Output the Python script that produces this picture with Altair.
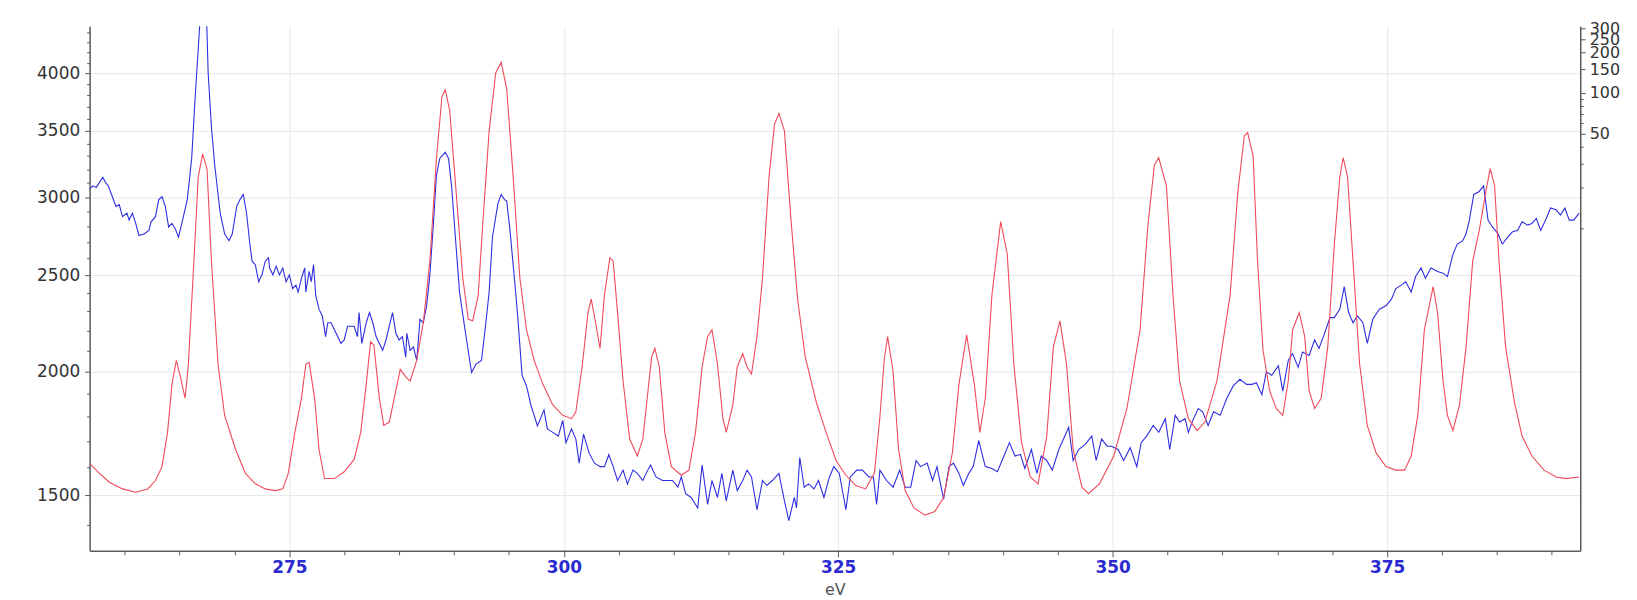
import altair as alt
import pandas as pd

# ---- data (eV, intensity) ----
BLUE = [
    (256.8, 3056), (257.1, 3080), (257.4, 3068), (257.7, 3105), (258.0, 3142), (258.25, 3105),
    (258.5, 3080), (258.8, 3019), (259.2, 2936), (259.5, 2948), (259.8, 2867), (260.2, 2890),
    (260.4, 2844), (260.7, 2890), (261.0, 2822), (261.3, 2744), (261.8, 2755), (262.2, 2777),
    (262.4, 2833), (262.8, 2867), (263.1, 2983), (263.4, 3003), (263.7, 2936), (264.0, 2799),
    (264.3, 2822), (264.6, 2788), (264.9, 2733), (265.2, 2822), (265.7, 2983), (266.1, 3283),
    (266.4, 3759), (266.7, 4236), (267.0, 4800), (267.4, 4800), (267.6, 4007), (267.9, 3527),
    (268.2, 3231), (268.7, 2890), (269.1, 2755), (269.5, 2711), (269.8, 2755), (270.2, 2936),
    (270.5, 2983), (270.8, 3019), (271.1, 2890), (271.4, 2690), (271.6, 2585), (271.9, 2564),
    (272.2, 2464), (272.5, 2504), (272.8, 2585), (273.1, 2606), (273.2, 2544), (273.5, 2504),
    (273.8, 2554), (274.1, 2504), (274.4, 2544), (274.7, 2464), (275.0, 2504), (275.3, 2425),
    (275.6, 2445), (275.8, 2406), (276.1, 2484), (276.4, 2544), (276.5, 2406), (276.8, 2524),
    (277.0, 2464), (277.2, 2564), (277.4, 2387), (277.7, 2312), (278.0, 2276), (278.3, 2169),
    (278.5, 2240), (278.8, 2240), (279.1, 2204), (279.4, 2169), (279.7, 2135), (280.0, 2152),
    (280.3, 2222), (280.6, 2222), (280.9, 2222), (281.2, 2169), (281.35, 2294), (281.6, 2135),
    (282.0, 2240), (282.3, 2294), (282.6, 2240), (282.9, 2169), (283.2, 2135), (283.5, 2101),
    (283.8, 2152), (284.1, 2222), (284.4, 2294), (284.7, 2186), (285.0, 2152), (285.3, 2169),
    (285.6, 2068), (285.7, 2186), (286.0, 2101), (286.3, 2118), (286.6, 2052), (286.9, 2258),
    (287.2, 2240), (287.5, 2330), (287.8, 2504), (288.1, 2799), (288.4, 3157), (288.7, 3283),
    (289.2, 3330), (289.5, 3283), (289.8, 3059), (290.1, 2755), (290.5, 2406), (291.0, 2204),
    (291.6, 1995), (292.0, 2035), (292.5, 2052), (292.9, 2240), (293.2, 2406), (293.5, 2733),
    (294.0, 2956), (294.3, 3019), (294.6, 2983), (294.8, 2972), (295.1, 2777), (295.5, 2484),
    (295.8, 2276), (296.2, 1982), (296.6, 1935), (297.0, 1850), (297.6, 1762), (298.2, 1829),
    (298.5, 1750), (299.0, 1736), (299.5, 1721), (299.9, 1785), (300.2, 1695), (300.7, 1750),
    (301.1, 1709), (301.4, 1616), (301.8, 1729), (302.3, 1655), (302.8, 1616), (303.3, 1603),
    (303.7, 1603), (304.1, 1648), (304.5, 1603), (304.9, 1552), (305.4, 1590), (305.8, 1540),
    (306.3, 1590), (306.7, 1578), (307.2, 1552), (307.5, 1578), (307.9, 1609), (308.4, 1565),
    (309.0, 1552), (309.5, 1552), (309.9, 1552), (310.4, 1528), (310.7, 1565), (311.1, 1505),
    (311.6, 1492), (312.2, 1456), (312.6, 1609), (313.1, 1468), (313.5, 1552), (314.0, 1492),
    (314.4, 1578), (314.8, 1480), (315.4, 1590), (315.8, 1516), (316.3, 1552), (316.7, 1590),
    (317.1, 1565), (317.6, 1450), (318.1, 1552), (318.5, 1534), (319.0, 1552), (319.6, 1578),
    (320.1, 1480), (320.5, 1414), (321.0, 1492), (321.2, 1456), (321.5, 1637), (321.9, 1528),
    (322.3, 1540), (322.8, 1522), (323.2, 1552), (323.7, 1492), (324.2, 1565), (324.6, 1603),
    (325.1, 1578), (325.7, 1450), (326.1, 1565), (326.7, 1590), (327.2, 1590), (327.8, 1565),
    (328.2, 1565), (328.5, 1468), (328.8, 1590), (329.4, 1552), (330.0, 1528), (330.6, 1590),
    (331.1, 1528), (331.6, 1528), (332.1, 1626), (332.5, 1603), (333.1, 1616), (333.6, 1552),
    (334.0, 1603), (334.6, 1486), (335.1, 1603), (335.5, 1616), (336.0, 1578), (336.4, 1534),
    (336.9, 1578), (337.3, 1603), (337.8, 1703), (338.4, 1603), (339.0, 1596), (339.5, 1584),
    (340.1, 1643), (340.6, 1695), (341.1, 1643), (341.6, 1649), (342.0, 1596), (342.6, 1668),
    (343.1, 1578), (343.5, 1643), (344.0, 1626), (344.5, 1590), (345.1, 1668), (346.0, 1757),
    (346.4, 1626), (346.9, 1668), (347.5, 1688), (348.1, 1721), (348.5, 1626), (349.0, 1709),
    (349.5, 1681), (349.9, 1681), (350.5, 1668), (351.0, 1626), (351.6, 1675), (352.2, 1603),
    (352.6, 1695), (353.1, 1721), (353.7, 1764), (354.2, 1736), (354.8, 1792), (355.2, 1668),
    (355.7, 1806), (356.1, 1778), (356.6, 1792), (356.9, 1736), (357.3, 1785), (357.8, 1835),
    (358.2, 1821), (358.7, 1764), (359.2, 1821), (359.8, 1806), (360.4, 1879), (361.0, 1935),
    (361.6, 1964), (362.2, 1941), (362.7, 1941), (363.1, 1948), (363.6, 1895), (364.0, 1998),
    (364.5, 1982), (365.1, 2027), (365.5, 1911), (366.0, 2052), (366.4, 2085), (366.9, 2019),
    (367.3, 2093), (367.9, 2076), (368.4, 2152), (368.8, 2110), (369.2, 2169), (369.8, 2267),
    (370.2, 2267), (370.7, 2312), (371.1, 2436), (371.5, 2294), (371.9, 2240), (372.3, 2276),
    (372.8, 2240), (373.2, 2135), (373.7, 2258), (374.3, 2312), (374.9, 2330), (375.4, 2366),
    (375.8, 2425), (376.3, 2445), (376.7, 2464), (377.2, 2406), (377.6, 2494), (378.1, 2544),
    (378.5, 2484), (379.0, 2544), (379.6, 2524), (380.1, 2514), (380.5, 2494), (381.0, 2626),
    (381.4, 2690), (381.9, 2711), (382.2, 2755), (382.5, 2844), (382.9, 3019), (383.4, 3040),
    (383.8, 3080), (384.2, 2844), (384.6, 2799), (385.1, 2755), (385.5, 2690), (386.0, 2733),
    (386.4, 2766), (386.9, 2777), (387.3, 2833), (387.8, 2811), (388.2, 2822), (388.6, 2855),
    (389.0, 2777), (389.5, 2855), (389.9, 2925), (390.4, 2913), (390.8, 2878), (391.2, 2925),
    (391.6, 2844), (392.0, 2844), (392.5, 2890),
]

RED = [
    (256.8, 1615), (257.7, 1578), (258.6, 1546), (259.8, 1522), (261.0, 1510), (262.1, 1522),
    (262.8, 1552), (263.4, 1603), (263.9, 1736), (264.3, 1941), (264.7, 2052), (265.1, 1969),
    (265.5, 1879), (265.8, 2035), (266.3, 2585), (266.7, 3147), (267.1, 3318), (267.5, 3202),
    (267.9, 2585), (268.5, 2035), (269.1, 1806), (270.1, 1668), (271.0, 1578), (271.9, 1540),
    (272.8, 1522), (273.7, 1516), (274.4, 1522), (274.9, 1578), (275.5, 1736), (276.1, 1879),
    (276.5, 2035), (276.8, 2043), (277.3, 1879), (277.7, 1668), (278.2, 1559), (279.1, 1559),
    (280.0, 1584), (280.9, 1630), (281.5, 1736), (282.0, 1941), (282.4, 2143), (282.7, 2127),
    (283.2, 1879), (283.6, 1764), (284.1, 1778), (284.7, 1913), (285.1, 2010), (285.6, 1975),
    (286.0, 1956), (286.6, 2052), (287.2, 2240), (287.8, 2585), (288.4, 3283), (288.9, 3791),
    (289.2, 3850), (289.6, 3673), (290.2, 3030), (290.8, 2484), (291.3, 2258), (291.7, 2250),
    (292.2, 2387), (292.6, 2799), (293.2, 3500), (293.8, 4007), (294.3, 4104), (294.8, 3860),
    (295.4, 3130), (296.0, 2484), (296.6, 2204), (297.3, 2052), (298.1, 1941), (299.0, 1850),
    (299.9, 1806), (300.7, 1792), (301.1, 1821), (301.7, 2035), (302.2, 2292), (302.5, 2366),
    (302.9, 2240), (303.3, 2110), (303.7, 2387), (304.2, 2606), (304.5, 2585), (304.9, 2292),
    (305.4, 1956), (306.0, 1709), (306.7, 1643), (307.2, 1709), (307.6, 1879), (308.0, 2068),
    (308.3, 2110), (308.7, 2021), (309.2, 1736), (309.8, 1603), (310.7, 1571), (311.4, 1590),
    (312.0, 1736), (312.6, 2021), (313.1, 2169), (313.5, 2204), (314.0, 2035), (314.5, 1792),
    (314.8, 1736), (315.4, 1850), (315.8, 2021), (316.3, 2085), (316.7, 2021), (317.1, 1988),
    (317.6, 2169), (318.1, 2484), (318.7, 3147), (319.2, 3555), (319.6, 3646), (320.1, 3500),
    (320.7, 2844), (321.3, 2366), (322.0, 2068), (323.0, 1863), (323.9, 1736), (324.8, 1626),
    (325.7, 1571), (326.6, 1534), (327.5, 1522), (328.3, 1580), (328.8, 1800), (329.2, 2060),
    (329.5, 2169), (330.0, 2000), (330.5, 1668), (331.1, 1516), (331.9, 1456), (332.9, 1432),
    (333.8, 1444), (334.6, 1492), (335.4, 1655), (336.0, 1941), (336.7, 2178), (337.4, 1941),
    (337.9, 1736), (338.4, 1879), (339.0, 2387), (339.8, 2834), (340.4, 2627), (341.0, 2035),
    (341.7, 1695), (342.5, 1565), (343.2, 1540), (344.0, 1721), (344.6, 2118), (345.2, 2250),
    (345.8, 2035), (346.4, 1668), (347.2, 1528), (347.8, 1505), (348.8, 1540), (350.1, 1643),
    (351.3, 1835), (352.5, 2204), (353.2, 2799), (353.8, 3231), (354.2, 3288), (354.9, 3080),
    (355.5, 2387), (356.1, 1956), (356.9, 1792), (357.7, 1743), (358.4, 1778), (359.5, 1956),
    (360.7, 2387), (361.4, 3030), (362.0, 3460), (362.3, 3486), (362.8, 3300), (363.2, 2585),
    (363.7, 2101), (364.3, 1913), (364.9, 1835), (365.5, 1806), (366.0, 1956), (366.4, 2204),
    (367.0, 2294), (367.5, 2169), (367.9, 1913), (368.4, 1835), (369.0, 1879), (369.6, 2118),
    (370.2, 2690), (370.7, 3147), (371.0, 3288), (371.4, 3147), (371.9, 2585), (372.5, 2035),
    (373.2, 1764), (374.0, 1655), (374.9, 1603), (375.8, 1590), (376.6, 1590), (377.2, 1643),
    (377.8, 1806), (378.4, 2204), (379.2, 2436), (379.6, 2294), (380.1, 1956), (380.5, 1806),
    (381.0, 1743), (381.6, 1850), (382.2, 2118), (382.8, 2585), (383.4, 2777), (384.0, 3040),
    (384.4, 3205), (384.8, 3080), (385.2, 2585), (385.8, 2118), (386.6, 1863), (387.3, 1721),
    (388.2, 1643), (389.3, 1590), (390.4, 1565), (391.3, 1559), (392.5, 1565),
]

X_DOMAIN = [256.8, 392.6]
Y_DOMAIN = [1318, 4463]
X_TICKS = list(range(260, 395, 5))
Y_TICKS = list(range(1400, 4500, 100))
RIGHT_DOMAIN = [0.042, 310]
RIGHT_TICKS = [10, 20, 30, 40, 50, 60, 70, 80, 90, 100, 150, 200, 250, 300]

blue_df = pd.DataFrame(BLUE, columns=["eV", "value"])
red_df = pd.DataFrame(RED, columns=["eV", "value"])
right_df = pd.DataFrame({"eV": [320.0, 320.0], "r": [RIGHT_TICKS[0], RIGHT_TICKS[-1]]})

FONT = "DejaVu Sans"
AXIS_GREY = "#5a5a5a"
GRID = "#e8e8e8"

x_enc = alt.X(
    "eV:Q",
    scale=alt.Scale(domain=X_DOMAIN, nice=False, zero=False),
    axis=alt.Axis(
        title="eV",
        values=X_TICKS,
        labelExpr="datum.value % 25 === 0 ? datum.label : ''",
        labelColor="#2a2ad0",
        labelFontWeight="bold",
        labelFontSize=17,
        labelFont=FONT,
        labelPadding=3,
        tickSize={"condition": {"test": "datum.value % 25 === 0", "value": 6}, "value": 4},
        tickColor=AXIS_GREY,
        domainColor=AXIS_GREY,
        domainWidth=1.5,
        gridColor={"condition": {"test": "datum.value % 25 === 0", "value": GRID}, "value": "rgba(0,0,0,0)"},
        titleColor="#555555",
        titleFont=FONT,
        titleFontSize=16,
        titleFontWeight="normal",
        titlePadding=6,
    ),
)

y_left = alt.Y(
    "value:Q",
    scale=alt.Scale(type="log", domain=Y_DOMAIN, nice=False, zero=False),
    axis=alt.Axis(
        title=None,
        values=Y_TICKS,
        format="d",
        labelExpr="datum.value % 500 === 0 ? datum.label : ''",
        labelColor="#333333",
        labelFontSize=17,
        labelFont=FONT,
        labelPadding=5,
        labelOverlap=False,
        tickSize={"condition": {"test": "datum.value % 500 === 0", "value": 5}, "value": 3},
        tickColor=AXIS_GREY,
        domainColor=AXIS_GREY,
        domainWidth=1.5,
        gridColor={"condition": {"test": "datum.value % 500 === 0", "value": GRID}, "value": "rgba(0,0,0,0)"},
    ),
)

blue_line = alt.Chart(blue_df).mark_line(color="#2e2ee0", strokeWidth=1.1, clip=True).encode(
    x=x_enc, y=y_left
)
red_line = alt.Chart(red_df).mark_line(color="#f04a5a", strokeWidth=1.1, clip=True).encode(
    x=x_enc, y=y_left
)

right_axis = alt.Chart(right_df).mark_point(opacity=0).encode(
    x=x_enc,
    y=alt.Y(
        "r:Q",
        scale=alt.Scale(type="log", domain=RIGHT_DOMAIN, nice=False, zero=False),
        axis=alt.Axis(
            orient="right",
            title=None,
            values=RIGHT_TICKS,
            format="d",
            labelExpr="datum.value >= 50 && datum.value % 50 === 0 ? datum.label : ''",
            labelColor="#333333",
            labelFontSize=16,
            labelFont=FONT,
            labelPadding=4,
            labelOverlap=False,
            tickSize={"condition": {"test": "datum.value >= 50 && datum.value % 50 === 0", "value": 5}, "value": 3},
            tickColor=AXIS_GREY,
            domainColor=AXIS_GREY,
            domainWidth=1.5,
            grid=False,
        ),
    ),
)

chart = (
    alt.layer(alt.layer(blue_line, red_line), right_axis)
    .resolve_scale(y="independent")
    .properties(
        width=1498,
        height=527,
        autosize=alt.AutoSizeParams(type="none"),
        padding={"left": 82, "top": 17, "right": 49, "bottom": 46},
        background="white",
    )
    .configure_view(stroke=None)
)

chart.save("out.html", embed_options={"renderer": "svg", "actions": False})
